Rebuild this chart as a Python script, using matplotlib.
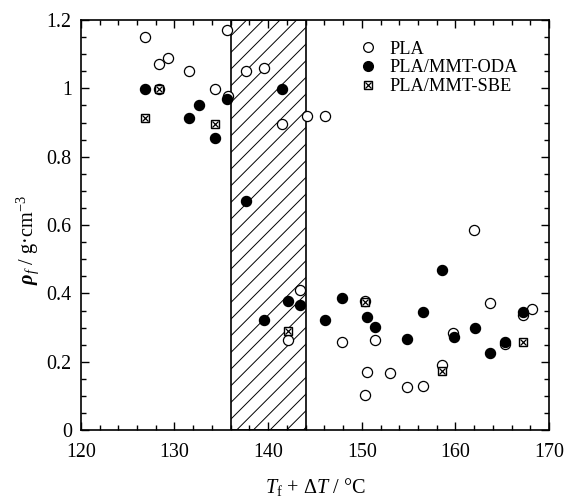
import matplotlib
matplotlib.use("Agg")
import matplotlib.pyplot as plt
from matplotlib.ticker import MultipleLocator
from matplotlib.lines import Line2D
from matplotlib.legend_handler import HandlerTuple

plt.rcParams['font.family'] = ['Liberation Serif', 'DejaVu Serif']
plt.rcParams['mathtext.fontset'] = 'custom'
plt.rcParams['mathtext.rm'] = 'Liberation Serif'
plt.rcParams['mathtext.it'] = 'Liberation Serif:italic'
plt.rcParams['mathtext.bf'] = 'Liberation Serif:bold'
plt.rcParams['mathtext.bfit'] = 'Liberation Serif:bold:italic'
plt.rcParams['hatch.linewidth'] = 0.7

# Data
pla_x = [126.9, 128.4, 128.4, 129.3, 131.5, 135.6, 134.3, 135.7, 137.6, 139.6, 141.5, 144.2, 146.1,
         143.4, 142.1, 162.0, 147.9, 150.3, 151.4, 150.6, 150.3, 153.0, 154.8, 156.5, 158.6,
         159.7, 163.7, 165.3, 167.2, 168.2]
pla_y = [1.15, 1.07, 0.998, 1.089, 1.05, 1.17, 0.997, 0.978, 1.05, 1.058, 0.897, 0.918, 0.918,
         0.409, 0.263, 0.585, 0.258, 0.378, 0.263, 0.169, 0.102, 0.166, 0.125, 0.129, 0.192,
         0.283, 0.371, 0.252, 0.337, 0.353]

oda_x = [126.9, 132.6, 131.5, 134.3, 135.6, 141.5, 137.6, 139.6, 142.1, 143.4, 146.1, 147.9,
         150.6, 151.4, 154.8, 156.5, 158.6, 159.8, 162.1, 163.7, 165.3, 167.2]
oda_y = [0.998, 0.951, 0.912, 0.855, 0.968, 0.997, 0.671, 0.322, 0.378, 0.365, 0.322, 0.387,
         0.331, 0.301, 0.267, 0.345, 0.468, 0.272, 0.299, 0.225, 0.257, 0.345]

sbe_x = [128.4, 126.9, 134.3, 142.1, 150.3, 158.6, 167.2]
sbe_y = [0.998, 0.914, 0.895, 0.291, 0.376, 0.173, 0.258]

band = (136.0, 144.0)

fig = plt.figure(figsize=(5.69, 4.99), dpi=100)
ax = fig.add_axes([0.142, 0.138, 0.823, 0.822])

ax.axvspan(band[0], band[1], facecolor='white', edgecolor='black', hatch='//', linewidth=1.2, zorder=1)

ms = 7.3
ax.plot(pla_x, pla_y, 'o', ms=ms, mfc='white', mec='black', mew=0.9, ls='none', zorder=3)
ax.plot(oda_x, oda_y, 'o', ms=ms, mfc='black', mec='black', mew=0.9, ls='none', zorder=4)
ax.plot(sbe_x, sbe_y, 's', ms=5.2, mfc='white', mec='black', mew=1.0, ls='none', zorder=5)
ax.plot(sbe_x, sbe_y, 'x', ms=4.0, mec='black', mew=0.9, ls='none', zorder=6)

ax.set_xlim(120, 170)
ax.set_ylim(0, 1.2)
ax.xaxis.set_major_locator(MultipleLocator(10))
ax.xaxis.set_minor_locator(MultipleLocator(2))
ax.yaxis.set_minor_locator(MultipleLocator(0.05))
ax.set_yticks([0, 0.2, 0.4, 0.6, 0.8, 1.0, 1.2])
ax.set_yticklabels(['0', '0.2', '0.4', '0.6', '0.8', '1', '1.2'])
ax.tick_params(which='both', direction='in', top=True, right=True, labelsize=14.4, width=1.0)
ax.tick_params(which='major', length=6)
ax.tick_params(which='minor', length=3.5)
ax.tick_params(axis='x', which='major', pad=9)
ax.tick_params(axis='y', which='major', pad=6.5)
for s in ax.spines.values():
    s.set_linewidth(1.2)

ax.set_xlabel(r'$T_\mathrm{f}$ + $\Delta T$ / °C', fontsize=14.6, labelpad=10)
ax.set_ylabel(r'$\boldsymbol{\rho}_f$ / g·cm$^{-3}$', fontsize=14.6, labelpad=4)
ax.yaxis.label.set_y(0.463)

h_pla = Line2D([], [], marker='o', ls='none', ms=7.0, mfc='white', mec='black', mew=0.9)
h_oda = Line2D([], [], marker='o', ls='none', ms=7.0, mfc='black', mec='black')
h_s1 = Line2D([], [], marker='s', ls='none', ms=5.2, mfc='white', mec='black', mew=1.0)
h_s2 = Line2D([], [], marker='x', ls='none', ms=4.0, mec='black', mew=0.9)
ax.legend([h_pla, h_oda, (h_s1, h_s2)], ['PLA', 'PLA/MMT-ODA', 'PLA/MMT-SBE'],
          handler_map={tuple: HandlerTuple(ndivide=1, pad=0)},
          loc='upper left', bbox_to_anchor=(0.555, 0.99), frameon=False, fontsize=13.2,
          handlelength=1.2, handletextpad=0.55, labelspacing=0.1)

fig.savefig('out.png', dpi=100)
